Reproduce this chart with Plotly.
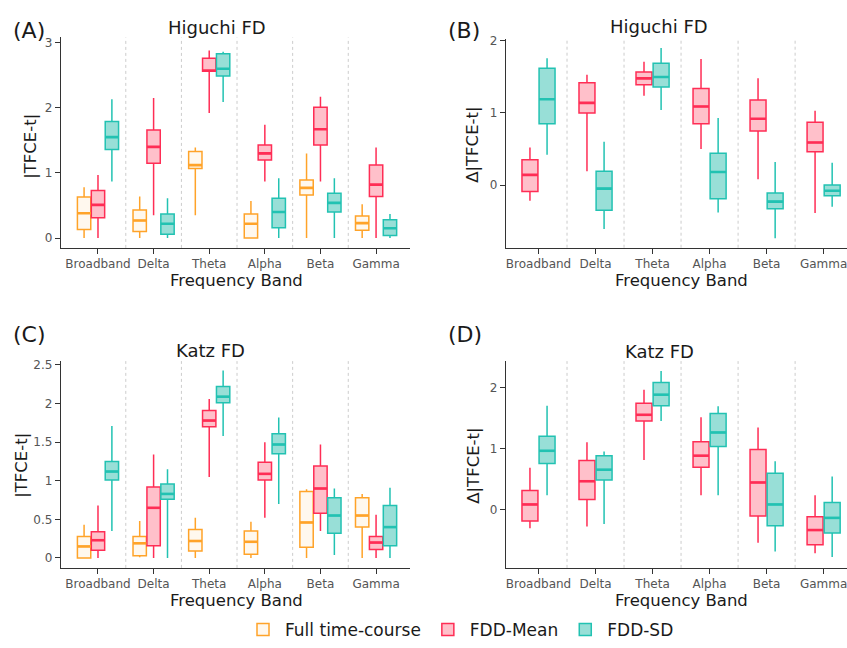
import plotly.graph_objects as go

W, H = 847, 648

bands = ["Broadband", "Delta", "Theta", "Alpha", "Beta", "Gamma"]
series_names = ["Full time-course", "FDD-Mean", "FDD-SD"]

# ---------- Panel A: Higuchi FD, |TFCE-t| ----------
A_full_lo  = [0.00, 0.00, 0.35, 0.00, 0.00, 0.00]
A_full_q1  = [0.13, 0.10, 1.07, 0.00, 0.66, 0.12]
A_full_med = [0.38, 0.27, 1.12, 0.22, 0.77, 0.23]
A_full_q3  = [0.63, 0.43, 1.33, 0.37, 0.89, 0.34]
A_full_hi  = [0.78, 0.64, 1.39, 0.57, 1.30, 0.52]

A_mean_lo  = [0.00, 0.35, 1.92, 0.87, 0.87, 0.00]
A_mean_q1  = [0.31, 1.15, 2.56, 1.20, 1.43, 0.64]
A_mean_med = [0.51, 1.40, 2.57, 1.30, 1.67, 0.82]
A_mean_q3  = [0.73, 1.66, 2.76, 1.43, 2.01, 1.12]
A_mean_hi  = [0.97, 2.15, 2.88, 1.74, 2.17, 1.39]

A_sd_lo  = [0.87, 0.00, 2.09, 0.00, 0.00, 0.00]
A_sd_q1  = [1.36, 0.06, 2.49, 0.16, 0.40, 0.04]
A_sd_med = [1.55, 0.22, 2.60, 0.40, 0.54, 0.15]
A_sd_q3  = [1.79, 0.37, 2.83, 0.61, 0.69, 0.28]
A_sd_hi  = [2.13, 0.61, 2.86, 0.92, 0.92, 0.37]

# ---------- Panel B: Higuchi FD, Δ|TFCE-t| ----------
B_mean_lo  = [-0.22, 0.19, 1.24, 0.50, 0.08, -0.39]
B_mean_q1  = [-0.09, 1.00, 1.39, 0.85, 0.75, 0.46]
B_mean_med = [0.14, 1.14, 1.48, 1.09, 0.92, 0.59]
B_mean_q3  = [0.35, 1.42, 1.57, 1.34, 1.18, 0.87]
B_mean_hi  = [0.52, 1.53, 1.71, 1.75, 1.48, 1.03]

B_sd_lo  = [0.42, -0.61, 1.04, -0.38, -0.74, -0.30]
B_sd_q1  = [0.85, -0.35, 1.36, -0.19, -0.33, -0.15]
B_sd_med = [1.19, -0.05, 1.50, 0.18, -0.23, -0.08]
B_sd_q3  = [1.62, 0.19, 1.69, 0.44, -0.11, 0.00]
B_sd_hi  = [1.76, 0.60, 1.90, 0.93, 0.32, 0.31]

# ---------- Panel C: Katz FD, |TFCE-t| ----------
C_full_lo  = [0.00, 0.01, 0.00, 0.00, 0.00, 0.00]
C_full_q1  = [0.00, 0.03, 0.09, 0.05, 0.14, 0.40]
C_full_med = [0.15, 0.19, 0.22, 0.21, 0.46, 0.55]
C_full_q3  = [0.28, 0.28, 0.37, 0.35, 0.86, 0.78]
C_full_hi  = [0.43, 0.48, 0.52, 0.47, 0.89, 0.83]

C_mean_lo  = [0.00, 0.00, 1.05, 0.52, 0.35, 0.00]
C_mean_q1  = [0.10, 0.16, 1.70, 1.01, 0.58, 0.11]
C_mean_med = [0.23, 0.65, 1.78, 1.09, 0.90, 0.20]
C_mean_q3  = [0.34, 0.92, 1.91, 1.24, 1.19, 0.28]
C_mean_hi  = [0.68, 1.34, 2.06, 1.50, 1.47, 0.56]

C_sd_lo  = [0.35, 0.00, 1.58, 0.70, 0.04, 0.00]
C_sd_q1  = [1.01, 0.76, 2.01, 1.35, 0.32, 0.16]
C_sd_med = [1.12, 0.83, 2.09, 1.47, 0.55, 0.40]
C_sd_q3  = [1.25, 0.96, 2.22, 1.61, 0.78, 0.68]
C_sd_hi  = [1.71, 1.15, 2.43, 1.82, 0.90, 0.91]

# ---------- Panel D: Katz FD, Δ|TFCE-t| ----------
D_mean_lo  = [-0.31, -0.28, 0.81, 0.23, -0.55, -0.72]
D_mean_q1  = [-0.19, 0.16, 1.45, 0.69, -0.11, -0.58]
D_mean_med = [0.08, 0.46, 1.55, 0.88, 0.44, -0.34]
D_mean_q3  = [0.31, 0.80, 1.74, 1.11, 0.98, -0.12]
D_mean_hi  = [0.68, 1.10, 1.96, 1.51, 1.34, 0.23]

D_sd_lo  = [0.23, -0.24, 1.45, 0.23, -0.69, -0.78]
D_sd_q1  = [0.75, 0.48, 1.70, 1.03, -0.27, -0.39]
D_sd_med = [0.96, 0.65, 1.88, 1.26, 0.08, -0.14]
D_sd_q3  = [1.20, 0.88, 2.08, 1.57, 0.59, 0.11]
D_sd_hi  = [1.70, 0.95, 2.27, 1.69, 0.79, 0.54]

LINE = {"Full time-course": "#FFA329", "FDD-Mean": "#FF2D55", "FDD-SD": "#22C2B2"}
FILL = {"Full time-course": "#FFF8EE", "FDD-Mean": "#FFC0CA", "FDD-SD": "#98DFD7"}

FONT = "DejaVu Sans"
AXC = "#333333"
TICKC = "#555555"


def px(x):
    return x / W


def py(y):
    return 1 - y / H


fig = go.Figure()

panels = [
    # axis suffix, series list, offsets, box width, legend
    ("", [("Full time-course", A_full_lo, A_full_q1, A_full_med, A_full_q3, A_full_hi),
          ("FDD-Mean", A_mean_lo, A_mean_q1, A_mean_med, A_mean_q3, A_mean_hi),
          ("FDD-SD", A_sd_lo, A_sd_q1, A_sd_med, A_sd_q3, A_sd_hi)],
     [-0.25, 0.0, 0.25], 0.24, True),
    ("2", [("FDD-Mean", B_mean_lo, B_mean_q1, B_mean_med, B_mean_q3, B_mean_hi),
           ("FDD-SD", B_sd_lo, B_sd_q1, B_sd_med, B_sd_q3, B_sd_hi)],
     [-0.15, 0.15], 0.28, False),
    ("3", [("Full time-course", C_full_lo, C_full_q1, C_full_med, C_full_q3, C_full_hi),
           ("FDD-Mean", C_mean_lo, C_mean_q1, C_mean_med, C_mean_q3, C_mean_hi),
           ("FDD-SD", C_sd_lo, C_sd_q1, C_sd_med, C_sd_q3, C_sd_hi)],
     [-0.25, 0.0, 0.25], 0.24, False),
    ("4", [("FDD-Mean", D_mean_lo, D_mean_q1, D_mean_med, D_mean_q3, D_mean_hi),
           ("FDD-SD", D_sd_lo, D_sd_q1, D_sd_med, D_sd_q3, D_sd_hi)],
     [-0.15, 0.15], 0.28, False),
]

for suf, series, offs, bw, leg in panels:
    for (name, lo, q1, med, q3, hi), off in zip(series, offs):
        xs = [i + off for i in range(len(bands))]
        fig.add_trace(go.Box(
            x=xs,
            q1=q1, median=med, q3=q3, lowerfence=lo, upperfence=hi,
            width=bw, whiskerwidth=0, boxpoints=False,
            line=dict(color=LINE[name], width=1.5),
            fillcolor=FILL[name], name=name, legendgroup=name,
            showlegend=leg, hoverinfo="skip",
            xaxis="x" + suf, yaxis="y" + suf,
        ))
        # thicker median bars (as in ggplot's boxplot)
        mx, my = [], []
        for xc, m in zip(xs, med):
            mx += [xc - bw / 2, xc + bw / 2, None]
            my += [m, m, None]
        fig.add_trace(go.Scatter(
            x=mx, y=my, mode="lines", line=dict(color=LINE[name], width=2.6),
            showlegend=False, hoverinfo="skip", legendgroup=name,
            xaxis="x" + suf, yaxis="y" + suf,
        ))

# geometry (pixels) of each panel
geo = {
    "":  dict(x0=61, x1=410, y0=33, y1=246.7, xr=[-0.665, 5.61], yr=[-0.151, 3.08], yt=[0, 1, 2, 3]),
    "2": dict(x0=506, x1=847, y0=35, y1=246.5, xr=[-0.57, 5.41], yr=[-0.87, 2.02], yt=[0, 1, 2]),
    "3": dict(x0=61, x1=410, y0=361.7, y1=571.7, xr=[-0.665, 5.61], yr=[-0.128, 2.55], yt=[0, 0.5, 1, 1.5, 2, 2.5]),
    "4": dict(x0=506, x1=847, y0=361.7, y1=571.7, xr=[-0.57, 5.41], yr=[-0.96, 2.43], yt=[0, 1, 2]),
}

layout = {}
shapes = []
for suf, g in geo.items():
    layout["xaxis" + suf] = dict(
        domain=[px(g["x0"]), px(g["x1"])], range=g["xr"], anchor="y" + suf,
        tickvals=list(range(len(bands))), ticktext=bands, ticklabeloverflow="allow",
        showline=True, linecolor=AXC, linewidth=1.3, ticks="outside", ticklen=5,
        tickcolor=AXC, tickwidth=1.2, tickfont=dict(size=12, color=TICKC, family=FONT),
        showgrid=False, zeroline=False, fixedrange=True,
    )
    layout["yaxis" + suf] = dict(
        domain=[py(g["y1"]), py(g["y0"])], range=g["yr"], anchor="x" + suf,
        tickvals=g["yt"],
        showline=True, linecolor=AXC, linewidth=1.3, ticks="outside", ticklen=5,
        tickcolor=AXC, tickwidth=1.2, tickfont=dict(size=12, color=TICKC, family=FONT),
        showgrid=False, zeroline=False, fixedrange=True,
    )
    for i in range(len(bands) - 1):
        shapes.append(dict(type="line", xref="x" + suf, yref="y" + suf + " domain",
                           x0=i + 0.5, x1=i + 0.5, y0=0, y1=1, layer="below",
                           line=dict(color="#CCCCCC", width=1, dash="dot")))

ann = []


def text(x, y, s, size, color="#1a1a1a", angle=0):
    ann.append(dict(x=px(x), y=py(y), xref="paper", yref="paper", text=s,
                    showarrow=False, textangle=angle, xanchor="center", yanchor="middle",
                    font=dict(size=size, color=color, family=FONT)))


# panel letters
text(29, 26, "(A)", 22)
text(464, 26, "(B)", 22)
text(29, 335, "(C)", 22)
text(465, 335, "(D)", 22)
# titles
text(217, 23, "Higuchi FD", 18)
text(659, 22, "Higuchi FD", 18)
text(210, 351, "Katz FD", 18)
text(659, 352, "Katz FD", 18)
# x titles
text(236, 280, "Frequency Band", 16.5)
text(681, 280, "Frequency Band", 16.5)
text(236, 605, "Frequency Band", 16.5)
text(681, 605, "Frequency Band", 16.5)
# y titles
text(31, 143, "|TFCE-t|", 16.5, angle=-90)
text(473, 142, "Δ|TFCE-t|", 16.5, angle=-90)
text(22, 468, "|TFCE-t|", 16.5, angle=-90)
text(474, 468, "Δ|TFCE-t|", 16.5, angle=-90)

fig.update_layout(
    width=W, height=H, margin=dict(l=0, r=0, t=0, b=0),
    paper_bgcolor="white", plot_bgcolor="white",
    font=dict(family=FONT, color="#1a1a1a"),
    boxmode="overlay",
    shapes=shapes, annotations=ann,
    legend=dict(orientation="h", x=px(460), xanchor="center", y=py(635), yanchor="middle",
                font=dict(size=17, family=FONT, color="#1a1a1a"), itemwidth=34),
    **layout,
)

fig.write_html("out.html", config={"displayModeBar": False},
               post_script="document.body.style.margin='0';document.body.style.overflow='hidden';")
